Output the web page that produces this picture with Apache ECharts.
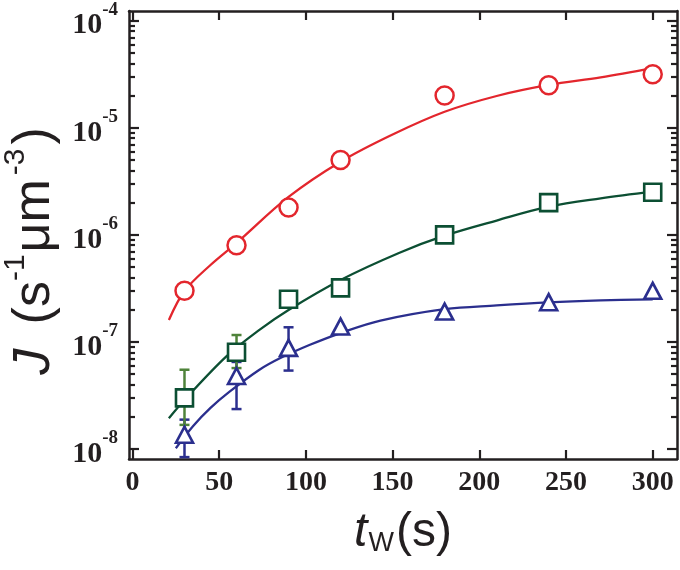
<!DOCTYPE html>
<html><head><meta charset="utf-8">
<script src="https://cdn.jsdelivr.net/npm/echarts@6/dist/echarts.min.js"></script>
<style>html,body{margin:0;padding:0;background:#fff}#c{width:680px;height:570px}</style>
</head><body><div id="c"></div>
<script>
// measured points
const tw = [30, 60, 90, 120, 180, 240, 300];
const jRed = [3.0e-7, 8.0e-7, 1.8e-6, 5.0e-6, 2.0e-5, 2.5e-5, 3.16e-5];
const jGreen = [3.0e-8, 8.0e-8, 2.5e-7, 3.2e-7, 1.0e-6, 2.0e-6, 2.5e-6];
const jBlue = [1.36e-8, 4.8e-8, 8.8e-8, 1.39e-7, 1.92e-7, 2.35e-7, 3.0e-7];

// error bars
const errGreenT = [30, 60];
const errGreenLow = [1.68e-8, 5.7e-8];
const errGreenHigh = [5.5e-8, 1.16e-7];
const errBlueT = [30, 60, 90];
const errBlueLow = [8.4e-9, 2.36e-8, 5.4e-8];
const errBlueHigh = [1.88e-8, 6.5e-8, 1.37e-7];

// fitted curves
const fitRedT = [21, 30, 45, 60, 90, 120, 150, 180, 210, 240, 270, 300];
const fitRedJ = [1.60e-7, 2.99e-7, 5.23e-7, 8.39e-7, 2.26e-6, 4.82e-6, 8.65e-6, 1.41e-5, 1.98e-5, 2.51e-5, 2.96e-5, 3.61e-5];
const fitGreenT = [21, 30, 54, 73, 90, 120, 154, 180, 210, 240, 270, 300];
const fitGreenJ = [1.94e-8, 2.87e-8, 7.28e-8, 1.29e-7, 1.99e-7, 3.79e-7, 6.81e-7, 9.82e-7, 1.36e-6, 1.83e-6, 2.19e-6, 2.53e-6];
const fitBlueT = [25, 35, 45, 56, 73, 85, 102, 120, 143, 180, 210, 240, 270, 300];
const fitBlueJ = [1.016e-8, 1.64e-8, 2.42e-8, 3.43e-8, 5.47e-8, 7.03e-8, 9.35e-8, 1.21e-7, 1.58e-7, 2.02e-7, 2.19e-7, 2.34e-7, 2.44e-7, 2.50e-7];

// axes
const xTicks = [0, 50, 100, 150, 200, 250, 300];
const yMajor = [1e-8, 1e-7, 1e-6, 1e-5, 1e-4];
const yMinor = [];
for (let e = -8; e <= -5; e++) for (let m = 2; m <= 9; m++) yMinor.push(m * Math.pow(10, e));

const RED = '#e3262d', GREEN = '#0c4f33', BLUE = '#2b2f8e', GREEN_ERR = '#4f833a', AX = '#231f20';
const SERIF = '"Liberation Serif","Times New Roman",serif';
const SANS = '"Liberation Sans",Arial,sans-serif';

const pairs = (a, b) => a.map((v, i) => [v, b[i]]);

function errSeries(ts, lo, hi, color) {
  return {
    type: 'custom', xAxisIndex: 0, yAxisIndex: 0, z: 3,
    data: ts.map((t, i) => [t, lo[i], hi[i]]),
    encode: { x: 0, y: [1, 2] },
    renderItem(params, api) {
      const x = api.value(0);
      const p1 = api.coord([x, api.value(1)]);
      const p2 = api.coord([x, api.value(2)]);
      const w = 5;
      const st = { stroke: color, lineWidth: 2.5 };
      return { type: 'group', children: [
        { type: 'line', shape: { x1: p1[0], y1: p1[1], x2: p2[0], y2: p2[1] }, style: st },
        { type: 'line', shape: { x1: p1[0] - w, y1: p1[1], x2: p1[0] + w, y2: p1[1] }, style: st },
        { type: 'line', shape: { x1: p2[0] - w, y1: p2[1], x2: p2[0] + w, y2: p2[1] }, style: st }
      ]};
    }
  };
}

const yMin = 8.065e-9, yMax = 1.2316e-4;
function yAx(pos, vals, len, line, labels) {
  return {
    type: 'log', logBase: 10, position: pos, min: yMin, max: yMax,
    axisLine: { show: line, onZero: false, lineStyle: { color: AX, width: 2.5 } },
    axisTick: { show: true, inside: true, length: len, customValues: vals, lineStyle: { color: AX, width: 2.2 } },
    axisLabel: labels ? {
      show: true, customValues: vals, margin: 11,
      formatter: v => '{b|10}{s|' + Math.round(Math.log10(v)) + '}',
      rich: {
        b: { fontFamily: SERIF, fontWeight: 'bold', fontSize: 30, color: AX, verticalAlign: 'bottom', lineHeight: 40 },
        s: { fontFamily: SERIF, fontWeight: 'bold', fontSize: 19, color: AX, verticalAlign: 'top', lineHeight: 40 }
      }
    } : { show: false },
    splitLine: { show: false }
  };
}
function xAx(pos, labels) {
  return {
    type: 'value', position: pos, min: -2, max: 314,
    axisLine: { show: true, onZero: false, lineStyle: { color: AX, width: 2.5 } },
    axisTick: { show: true, inside: true, length: 9, customValues: xTicks, lineStyle: { color: AX, width: 2.2 } },
    axisLabel: labels ? { show: true, customValues: xTicks, margin: 10, fontFamily: SERIF, fontWeight: 'bold', fontSize: 28, color: AX } : { show: false },
    splitLine: { show: false }
  };
}

const xa0 = xAx('bottom', true);
xa0.name = '{i|t}{w|W}{n|(s)}';
xa0.nameLocation = 'middle';
xa0.nameGap = 46;
xa0.nameTextStyle = { rich: {
  i: { fontFamily: SANS, fontStyle: 'italic', fontSize: 48, color: AX, verticalAlign: 'bottom', lineHeight: 52 },
  w: { fontFamily: SANS, fontSize: 27, color: AX, verticalAlign: 'bottom', lineHeight: 52, padding: [0, 2, 0, 1] },
  n: { fontFamily: SANS, fontSize: 48, color: AX, verticalAlign: 'bottom', lineHeight: 52 }
}};

const yTitle = {
  type: 'text', x: 31, y: 251, rotation: Math.PI / 2, silent: true,
  style: {
    text: '{i|J}{n| (s}{s|-1}{n|\u03bcm}{t|-3}{n|)}',
    align: 'center', verticalAlign: 'middle',
    rich: {
      i: { fontFamily: SANS, fontStyle: 'italic', fontSize: 52, fill: AX, verticalAlign: 'bottom', lineHeight: 60, padding: [0, 10, 0, 0] },
      n: { fontFamily: SANS, fontSize: 52, fill: AX, verticalAlign: 'bottom', lineHeight: 60 },
      s: { fontFamily: SANS, fontSize: 30, fill: AX, verticalAlign: 'top', lineHeight: 60, padding: [0, 2, 0, 0] },
      t: { fontFamily: SANS, fontSize: 30, fill: AX, verticalAlign: 'top', lineHeight: 60, padding: [0, 4, 0, 4] }
    }
  }
};

const option = {
  animation: false,
  backgroundColor: '#fff',
  grid: { left: 129, right: 3, top: 11, bottom: 111, containLabel: false, outerBoundsMode: 'none' },
  xAxis: [xa0, xAx('top', false)],
  yAxis: [yAx('left', yMajor, 10, true, true), yAx('left', yMinor, 6, false, false), yAx('right', yMajor, 10, true, false), yAx('right', yMinor, 6, false, false)],
  graphic: [yTitle],
  series: [
    { type: 'line', data: pairs(fitRedT, fitRedJ), smooth: 0.35, symbol: 'none', lineStyle: { color: RED, width: 2.3 }, z: 2 },
    { type: 'line', data: pairs(fitGreenT, fitGreenJ), smooth: 0.35, symbol: 'none', lineStyle: { color: GREEN, width: 2.3 }, z: 2 },
    { type: 'line', data: pairs(fitBlueT, fitBlueJ), smooth: 0.35, symbol: 'none', lineStyle: { color: BLUE, width: 2.3 }, z: 2 },
    errSeries(errBlueT, errBlueLow, errBlueHigh, BLUE),
    errSeries(errGreenT, errGreenLow, errGreenHigh, GREEN_ERR),
    { type: 'scatter', data: pairs(tw, jRed), symbol: 'circle', symbolSize: 18, itemStyle: { color: '#fff', borderColor: RED, borderWidth: 2.5, opacity: 1 }, z: 5 },
    { type: 'scatter', data: pairs(tw, jGreen), symbol: 'rect', symbolSize: 17, itemStyle: { color: '#fff', borderColor: GREEN, borderWidth: 2.6, opacity: 1 }, z: 5 },
    { type: 'scatter', data: pairs(tw, jBlue), symbol: 'triangle', symbolSize: [17, 16], itemStyle: { color: '#fff', borderColor: BLUE, borderWidth: 2.6, opacity: 1 }, z: 5 }
  ]
};
const chart = echarts.init(document.getElementById('c'), null, { renderer: 'canvas' });
chart.setOption(option);
</script></body></html>
